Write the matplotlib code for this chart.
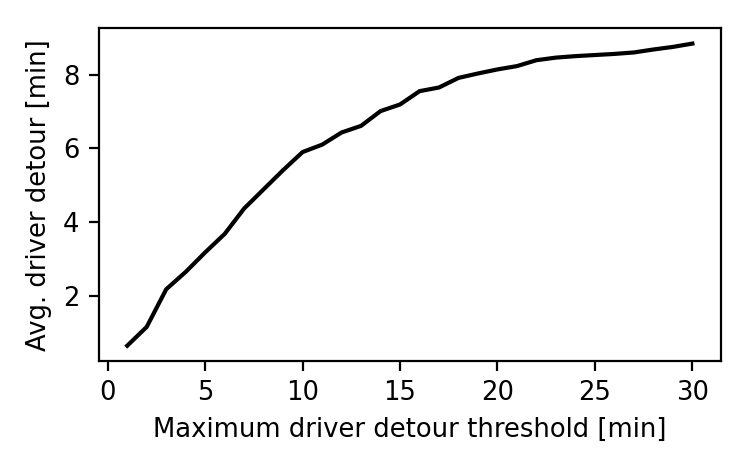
import matplotlib
matplotlib.use("Agg")
import matplotlib.pyplot as plt

# max detour threshold [min] vs avg detour [min]
thresholds = list(range(1, 31))
avg_detour = [0.65, 1.16, 2.18, 2.65, 3.18, 3.68, 4.37, 4.89, 5.41, 5.90,
              6.10, 6.43, 6.61, 7.01, 7.19, 7.55, 7.65, 7.91, 8.03, 8.14,
              8.23, 8.39, 8.46, 8.50, 8.53, 8.56, 8.60, 8.68, 8.75, 8.84]

plt.rcParams['font.size'] = 9.3

fig = plt.figure(figsize=(3.735, 2.335), dpi=200)
ax = fig.add_axes([0.1325, 0.2274, 0.8322, 0.7116])

ax.plot(thresholds, avg_detour, color='k')

ax.set_xlabel('Maximum driver detour threshold [min]')
ax.set_ylabel('Avg. driver detour [min]')

fig.savefig('out.png', dpi=200)
